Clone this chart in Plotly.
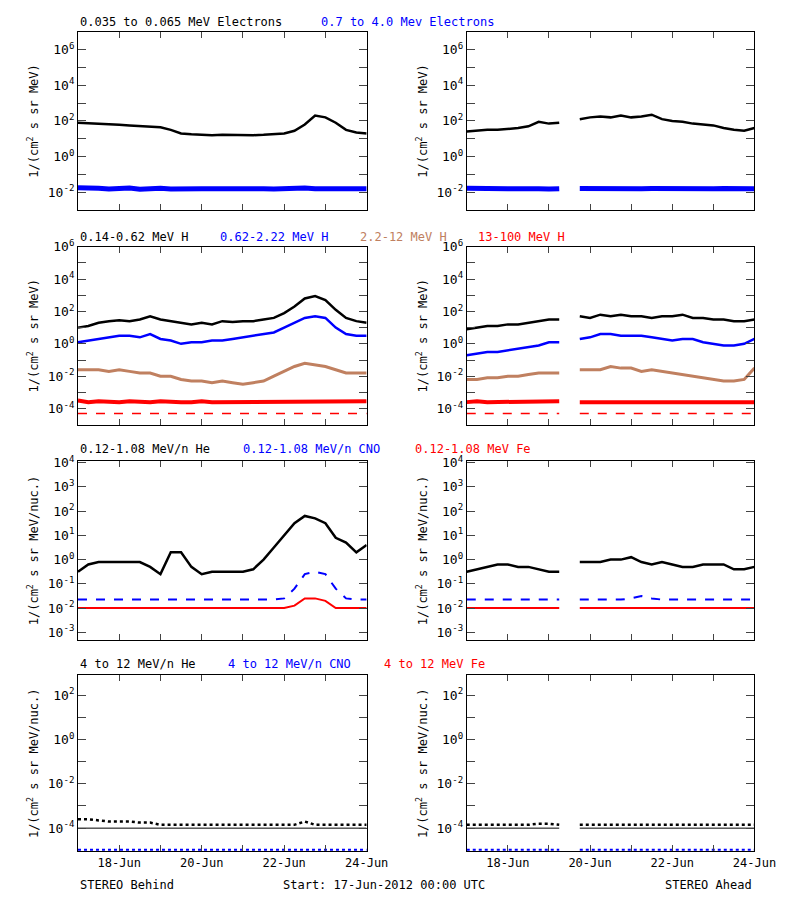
import plotly.graph_objects as go
import pandas as pd
import numpy as np

# 6-hourly samples, 17-Jun-2012 00:00 .. 24-Jun-2012 00:00 (log10 of flux)
times = pd.date_range("2012-06-17", periods=29, freq="6h")
N = None

# electrons
e_lo_B = [1.9,1.88,1.85,1.82,1.78,1.75,1.72,1.7,1.65,1.5,1.3,1.25,1.22,1.2,1.22,1.2,1.18,1.2,1.22,1.25,1.3,1.45,1.8,2.3,2.2,1.9,1.5,1.35,1.3]
e_hi_B = [-1.75,-1.8,-1.78,-1.82,-1.8,-1.77,-1.83,-1.8,-1.78,-1.82,-1.8,-1.76,-1.81,-1.8,-1.79,-1.83,-1.8,-1.77,-1.8,-1.82,-1.78,-1.8,-1.76,-1.8,-1.81,-1.79,-1.8,-1.82,-1.8]
e_lo_A = [1.4,1.45,1.5,1.5,1.55,1.6,1.7,1.95,1.85,1.9,N,2.1,2.2,2.25,2.2,2.3,2.2,2.25,2.35,2.1,2.0,1.95,1.85,1.8,1.75,1.6,1.5,1.45,1.6]
e_hi_A = [-1.78,-1.8,-1.82,-1.79,-1.8,-1.81,-1.78,-1.8,-1.82,-1.8,N,-1.79,-1.8,-1.81,-1.78,-1.8,-1.82,-1.8,-1.79,-1.8,-1.81,-1.78,-1.8,-1.82,-1.8,-1.79,-1.8,-1.81,-1.8]

# protons
h1_B = [1.0,1.1,1.3,1.4,1.45,1.4,1.5,1.7,1.5,1.4,1.3,1.2,1.3,1.2,1.4,1.35,1.4,1.4,1.5,1.6,1.9,2.3,2.8,2.95,2.7,2.1,1.6,1.4,1.3]
h2_B = [0.1,0.2,0.3,0.4,0.5,0.5,0.4,0.6,0.3,0.2,0.0,0.1,0.1,0.2,0.2,0.3,0.4,0.5,0.6,0.7,1.0,1.3,1.6,1.7,1.6,1.0,0.6,0.5,0.5]
h3_B = [-1.6,-1.6,-1.6,-1.7,-1.6,-1.7,-1.8,-1.8,-2.0,-2.0,-2.2,-2.3,-2.3,-2.4,-2.3,-2.4,-2.5,-2.4,-2.3,-2.0,-1.7,-1.4,-1.2,-1.3,-1.4,-1.6,-1.8,-1.8,-1.8]
h4_B = [-3.5,-3.6,-3.55,-3.6,-3.6,-3.55,-3.6,-3.6,-3.55,-3.6,-3.6,-3.6,-3.55,-3.6,-3.6,-3.6,-3.55,-3.6,-3.6,-3.6,-3.55,-3.6,-3.6,-3.6,-3.55,-3.6,-3.6,-3.6,-3.55]
h1_A = [0.9,1.0,1.1,1.1,1.2,1.2,1.3,1.4,1.5,1.5,N,1.7,1.6,1.8,1.7,1.8,1.7,1.7,1.6,1.7,1.7,1.8,1.6,1.6,1.5,1.5,1.4,1.4,1.5]
h2_A = [-0.7,-0.6,-0.5,-0.5,-0.4,-0.3,-0.2,-0.1,0.1,0.1,N,0.3,0.4,0.6,0.6,0.5,0.5,0.5,0.4,0.3,0.2,0.3,0.3,0.1,0.0,-0.1,-0.1,0.0,0.3]
h3_A = [-2.2,-2.2,-2.1,-2.1,-2.0,-2.0,-1.9,-1.8,-1.8,-1.8,N,-1.6,-1.6,-1.6,-1.4,-1.5,-1.5,-1.7,-1.6,-1.7,-1.8,-1.9,-2.0,-2.1,-2.2,-2.3,-2.3,-2.2,-1.5]
h4_A = [-3.6,-3.55,-3.6,-3.6,-3.6,-3.55,-3.6,-3.6,-3.6,-3.55,N,-3.6,-3.6,-3.55,-3.6,-3.6,-3.6,-3.55,-3.6,-3.6,-3.6,-3.55,-3.6,-3.6,-3.6,-3.55,-3.6,-3.6,-3.6]
h4_floor = -4.3

# 0.12-1.08 MeV/n heavy ions
he_B = [-0.5,-0.2,-0.1,-0.1,-0.1,-0.1,-0.1,-0.3,-0.6,0.3,0.3,-0.3,-0.6,-0.5,-0.5,-0.5,-0.5,-0.4,0.0,0.5,1.0,1.5,1.8,1.7,1.5,0.9,0.7,0.3,0.6]
cno_B = [-1.65,-1.65,-1.65,-1.65,-1.65,-1.65,-1.65,-1.65,-1.65,-1.65,-1.65,-1.65,-1.65,-1.65,-1.65,-1.65,-1.65,-1.65,-1.65,-1.65,-1.6,-1.2,-0.6,-0.5,-0.6,-1.2,-1.6,-1.65,-1.65]
fe_B = [-2.0,-2.0,-2.0,-2.0,-2.0,-2.0,-2.0,-2.0,-2.0,-2.0,-2.0,-2.0,-2.0,-2.0,-2.0,-2.0,-2.0,-2.0,-2.0,-2.0,-2.0,-1.9,-1.6,-1.6,-1.7,-2.0,-2.0,-2.0,-2.0]
he_A = [-0.5,-0.4,-0.3,-0.2,-0.2,-0.3,-0.3,-0.4,-0.5,-0.5,N,-0.1,-0.1,-0.1,0.0,0.0,0.1,-0.1,-0.2,-0.1,-0.2,-0.3,-0.3,-0.2,-0.2,-0.2,-0.4,-0.4,-0.3]
cno_A = [-1.65,-1.65,-1.65,-1.65,-1.65,-1.65,-1.65,-1.65,-1.65,-1.65,N,-1.65,-1.65,-1.65,-1.65,-1.65,-1.6,-1.5,-1.6,-1.65,-1.65,-1.65,-1.65,-1.65,-1.65,-1.65,-1.65,-1.65,-1.65]
fe_A = [-2.0,-2.0,-2.0,-2.0,-2.0,-2.0,-2.0,-2.0,-2.0,-2.0,N,-2.0,-2.0,-2.0,-2.0,-2.0,-2.0,-2.0,-2.0,-2.0,-2.0,-2.0,-2.0,-2.0,-2.0,-2.0,-2.0,-2.0,-2.0]

# 4-12 MeV/n
he4_B = [-3.6,-3.6,-3.65,-3.7,-3.7,-3.7,-3.75,-3.75,-3.85,-3.85,-3.85,-3.85,-3.85,-3.85,-3.85,-3.85,-3.85,-3.85,-3.85,-3.85,-3.85,-3.85,-3.7,-3.85,-3.85,-3.85,-3.85,-3.85,-3.85]
he4_A = [-3.85,-3.85,-3.85,-3.85,-3.85,-3.85,-3.85,-3.8,-3.8,-3.85,N,-3.85,-3.85,-3.85,-3.85,-3.85,-3.85,-3.85,-3.85,-3.85,-3.85,-3.85,-3.85,-3.85,-3.85,-3.85,-3.85,-3.85,-3.85]
he4_floor = -4.0
cno4 = -4.98

BLACK, BLUE, BROWN, RED = "black", "#0000ff", "#c08060", "#ff0000"

def gap_like(ref, val):
    return [val if v is not None else None for v in ref]

panels = [
    # (row, col, yrange, tick exponents, ytitle, [(series, colour, dash, width)])
    (0, 0, [-3, 7], [-2, 0, 2, 4, 6], "MeV", [(e_lo_B, BLACK, "solid", 2.5), (e_hi_B, BLUE, "solid", 5)]),
    (0, 1, [-3, 7], [-2, 0, 2, 4, 6], "MeV", [(e_lo_A, BLACK, "solid", 2.5), (e_hi_A, BLUE, "solid", 5)]),
    (1, 0, [-5, 6], [-4, -2, 0, 2, 4, 6], "MeV",
     [(h1_B, BLACK, "solid", 2.5), (h2_B, BLUE, "solid", 2.5), (h3_B, BROWN, "solid", 3),
      (h4_B, RED, "solid", 4), ([h4_floor] * 29, RED, "dash", 1.5)]),
    (1, 1, [-5, 6], [-4, -2, 0, 2, 4, 6], "MeV",
     [(h1_A, BLACK, "solid", 2.5), (h2_A, BLUE, "solid", 2.5), (h3_A, BROWN, "solid", 3),
      (h4_A, RED, "solid", 4), (gap_like(h4_A, h4_floor), RED, "dash", 1.5)]),
    (2, 0, [-3.3, 4.05], [-3, -2, -1, 0, 1, 2, 3, 4], "nuc",
     [(he_B, BLACK, "solid", 2.5), (cno_B, BLUE, "dash", 2), (fe_B, RED, "solid", 2)]),
    (2, 1, [-3.3, 4.05], [-3, -2, -1, 0, 1, 2, 3, 4], "nuc",
     [(he_A, BLACK, "solid", 2.5), (cno_A, BLUE, "dash", 2), (fe_A, RED, "solid", 2)]),
    (3, 0, [-5.05, 2.9], [-4, -2, 0, 2], "nuc",
     [([he4_floor] * 29, BLACK, "solid", 1), (he4_B, BLACK, "dot", 2.5), ([cno4] * 29, BLUE, "dot", 2)]),
    (3, 1, [-5.05, 2.9], [-4, -2, 0, 2], "nuc",
     [(gap_like(he4_A, he4_floor), BLACK, "solid", 1), (he4_A, BLACK, "dot", 2.5),
      (gap_like(he4_A, cno4), BLUE, "dot", 2)]),
]

# page body has an 8px margin, so size the figure to fit inside the window
W, H, OFF = 784, 884, 8
row_px = [(23, 203), (240, 420), (457, 637), (673, 851)]
col_px = [(80, 377), (480, 776)]
FONT = "DejaVu Sans Mono"

def px_x(x):
    return (x - OFF) / W

def px_y(y):
    return 1 - (y - OFF) / H

fig = go.Figure()
day_ticks = pd.date_range("2012-06-17", periods=8, freq="D")
tick_text = ["", "18-Jun", "", "20-Jun", "", "22-Jun", "", "24-Jun"]

for r, c, yr, exps, unit, series in panels:
    i = r * 2 + c + 1
    xa, ya = ("x" if i == 1 else f"x{i}"), ("y" if i == 1 else f"y{i}")
    for vals, col, dash, lw in series:
        y = [10 ** v if v is not None else None for v in vals]
        fig.add_trace(go.Scatter(x=times, y=y, mode="lines", line=dict(color=col, width=lw, dash=dash),
                                 xaxis=xa, yaxis=ya, showlegend=False, connectgaps=False))
    x0, x1 = col_px[c]
    y0, y1 = row_px[r]
    ytitle = "1/(cm<sup>2</sup> s sr MeV)" if unit == "MeV" else "1/(cm<sup>2</sup> s sr MeV/nuc.)"
    minor_vals = [] if r == 2 else [10.0 ** (e + 1) for e in exps]
    fig.layout[f"xaxis{'' if i == 1 else i}"] = dict(
        domain=[px_x(x0), px_x(x1)], anchor=ya, type="date",
        range=["2012-06-17", "2012-06-24"], tickvals=day_ticks,
        ticktext=tick_text if r == 3 else [""] * 8,
        ticks="inside", ticklen=6, mirror="ticks", showline=True, linecolor="black",
        showgrid=False, zeroline=False, tickfont=dict(size=12, family=FONT, color="black"))
    fig.layout[f"yaxis{'' if i == 1 else i}"] = dict(
        domain=[px_y(y1), px_y(y0)], anchor=xa, type="log", range=yr,
        tickvals=[10.0 ** e for e in exps] + minor_vals,
        ticktext=[f"10<sup>{e}</sup>" for e in exps] + [""] * len(minor_vals),
        ticks="inside", ticklen=8, mirror="ticks", showline=True, linecolor="black",
        showgrid=False, zeroline=False, tickfont=dict(size=13, family=FONT, color="black"),
        title=dict(text=ytitle, font=dict(size=12, family=FONT, color="black"), standoff=6))

titles = [
    (13, [(80, "0.035 to 0.065 MeV Electrons", BLACK), (328, "0.7 to 4.0 Mev Electrons", BLUE)]),
    (230, [(80, "0.14-0.62 MeV H", BLACK), (224, "0.62-2.22 MeV H", BLUE),
           (368, "2.2-12 MeV H", BROWN), (489, "13-100 MeV H", RED)]),
    (444, [(80, "0.12-1.08 MeV/n He", BLACK), (248, "0.12-1.08 MeV/n CNO", BLUE), (425, "0.12-1.08 MeV Fe", RED)]),
    (662, [(80, "4 to 12 MeV/n He", BLACK), (232, "4 to 12 MeV/n CNO", BLUE), (393, "4 to 12 MeV Fe", RED)]),
]
for ypx, parts in titles:
    for xpx, txt, col in parts:
        fig.add_annotation(x=px_x(xpx), y=px_y(ypx), xref="paper", yref="paper", text=txt,
                           showarrow=False, xanchor="left", yanchor="middle",
                           font=dict(size=12, color=col, family=FONT))

for xpx, anchor, txt in [(80, "left", "STEREO Behind"), (395, "center", "Start: 17-Jun-2012 00:00 UTC"),
                         (776, "right", "STEREO Ahead")]:
    fig.add_annotation(x=px_x(xpx), y=px_y(885), xref="paper", yref="paper", text=txt,
                       showarrow=False, xanchor=anchor, yanchor="middle",
                       font=dict(size=12, color="black", family=FONT))

fig.update_layout(width=W, height=H, margin=dict(l=0, r=0, t=0, b=0),
                  plot_bgcolor="white", paper_bgcolor="white")
fig.write_html("out.html")
